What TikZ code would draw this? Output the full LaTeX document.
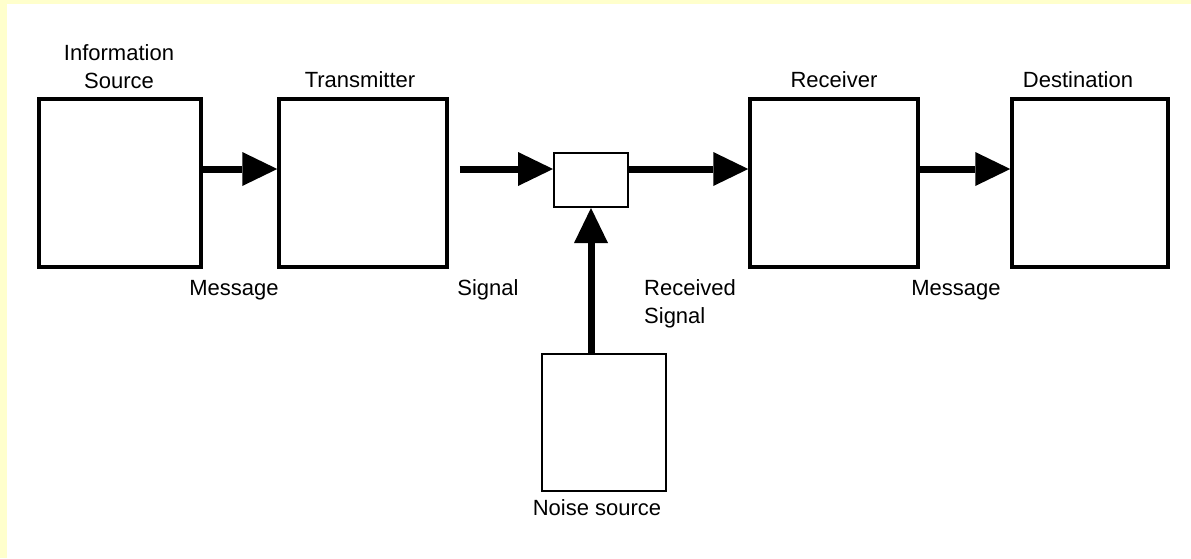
\documentclass[tikz,border=0pt]{standalone}
\usepackage{fontspec}
\setmainfont{Liberation Sans}
\usetikzlibrary{arrows.meta}
\definecolor{bgyellow}{HTML}{FFFFCC}
\begin{document}
\begin{tikzpicture}[x=1pt,y=-1pt,
  box/.style={draw,line width=3.5pt,rectangle,inner sep=0pt,fill=white,minimum height=168pt},
  thinbox/.style={draw,line width=2.5pt,rectangle,inner sep=0pt,fill=white},
  lbl/.style={font=\fontsize{22}{28}\selectfont,inner sep=0pt,anchor=base},
  flow/.style={line width=7pt,-{Triangle[length=35pt,width=34pt,line width=0pt]}}]
\useasboundingbox (0,0) rectangle (1191,558);
\fill[bgyellow] (0,0) rectangle (1191,558);
\fill[white] (7,4) rectangle (1191,558);
% boxes
\node[box,minimum width=162pt] (is) at (120,183) {};
\node[box,minimum width=168pt] (tx) at (363,183) {};
\node[thinbox,line width=2pt,minimum width=74pt,minimum height=54pt] (mix) at (591,180) {};
\node[box,minimum width=168pt] (rx) at (834,183) {};
\node[box,minimum width=156pt] (ds) at (1090,183) {};
\node[thinbox,minimum width=124pt,minimum height=137pt] (noise) at (604,422.5) {};
\coordinate (row) at (0,169);
% connectors
\draw[flow] (is.east |- row) -- (tx.west |- row);
\draw[flow] ([xshift=11pt]tx.east |- row) -- (mix.west |- row);
\draw[flow] (mix.east |- row) -- (rx.west |- row);
\draw[flow] (rx.east |- row) -- (ds.west |- row);
\draw[flow] (noise.north -| mix.south) -- (mix.south);
% labels
\node[lbl] (lis) at (119,60) {\begin{tabular}[t]{@{}c@{}}Information\\Source\end{tabular}};
\node[lbl] (ltx) at (360,87) {Transmitter};
\node[lbl] (lrx) at (834,87) {Receiver};
\node[lbl] (lds) at (1078,87) {Destination};
\node[lbl] (lm1) at (234,295) {Message};
\node[lbl] (lsig) at (488,295) {Signal};
\node[lbl,anchor=base west] (lrs) at (644,295) {\begin{tabular}[t]{@{}l@{}}Received\\Signal\end{tabular}};
\node[lbl] (lm2) at (956,295) {Message};
\node[lbl] (lns) at (597,515) {Noise source};
\end{tikzpicture}
\end{document}
